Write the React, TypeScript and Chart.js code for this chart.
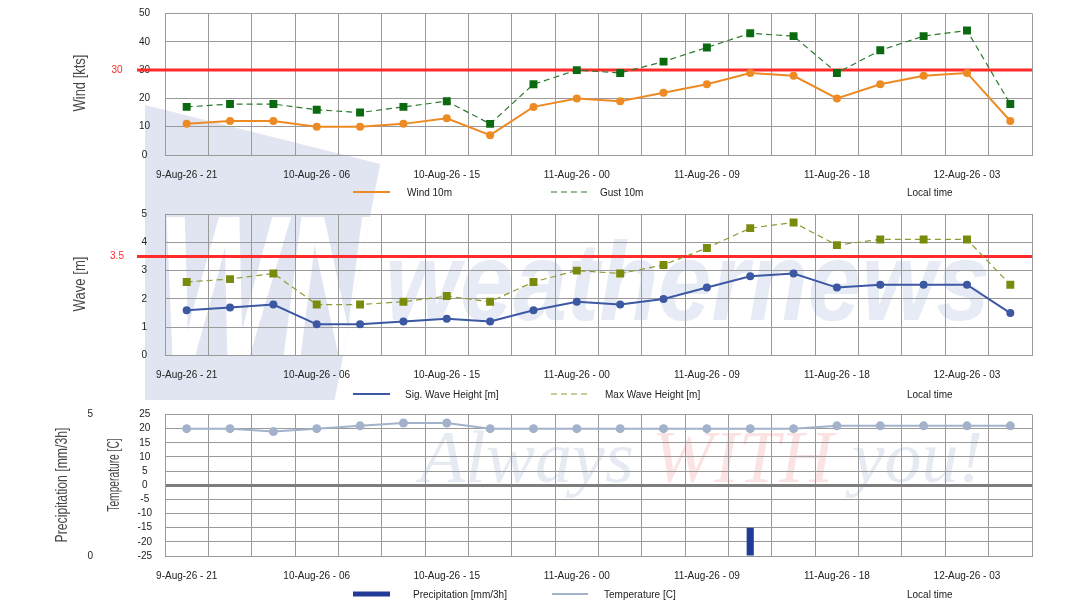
import React, { useEffect, useRef } from 'react';
import { Chart, registerables } from 'chart.js';

Chart.register(...registerables);

// ---------- data ----------
const categories = [
  '9-Aug-26 - 21', '10-Aug-26 - 00', '10-Aug-26 - 03', '10-Aug-26 - 06', '10-Aug-26 - 09',
  '10-Aug-26 - 12', '10-Aug-26 - 15', '10-Aug-26 - 18', '10-Aug-26 - 21', '11-Aug-26 - 00',
  '11-Aug-26 - 03', '11-Aug-26 - 06', '11-Aug-26 - 09', '11-Aug-26 - 12', '11-Aug-26 - 15',
  '11-Aug-26 - 18', '11-Aug-26 - 21', '12-Aug-26 - 00', '12-Aug-26 - 03', '12-Aug-26 - 06',
];
const wind10m = [11, 12, 12, 10, 10, 11, 13, 7, 17, 20, 19, 22, 25, 29, 28, 20, 25, 28, 29, 12];
const gust10m = [17, 18, 18, 16, 15, 17, 19, 11, 25, 30, 29, 33, 38, 43, 42, 29, 37, 42, 44, 18];
const sigWave = [1.6, 1.7, 1.8, 1.1, 1.1, 1.2, 1.3, 1.2, 1.6, 1.9, 1.8, 2.0, 2.4, 2.8, 2.9, 2.4, 2.5, 2.5, 2.5, 1.5];
const maxWave = [2.6, 2.7, 2.9, 1.8, 1.8, 1.9, 2.1, 1.9, 2.6, 3.0, 2.9, 3.2, 3.8, 4.5, 4.7, 3.9, 4.1, 4.1, 4.1, 2.5];
const temperature = [20, 20, 19, 20, 21, 22, 22, 20, 20, 20, 20, 20, 20, 20, 20, 21, 21, 21, 21, 21];
const precipitation = [0, 0, 0, 0, 0, 0, 0, 0, 0, 0, 0, 0, 0, 1.0, 0, 0, 0, 0, 0, 0];
const windLimit = 30;
const waveLimit = 3.5;
const windTicks = { min: 0, max: 50, step: 10 };
const waveTicks = { min: 0, max: 5, step: 1 };
const tempTicks = { min: -25, max: 25, step: 5 };
const precipTicks = { min: 0, max: 5, step: 5 };
const labelEvery = 3;

// ---------- styles ----------
const FONT = 'Liberation Sans, Arial, sans-serif';
const TXT = '#222222';
const GRID = '#9a9a9a';
const RED = '#ff2b2b';
const ORANGE = '#ee8a24';
const GREEN = '#0b6a10';
const GREEN_LINE = '#2c7a30';
const BLUE = '#3d58a3';
const OLIVE = '#7a8a0c';
const OLIVE_LINE = '#8f9a35';
const TEMP = '#a3b2cb';
const PRECIP = '#233a98';

Chart.defaults.font.family = FONT;
Chart.defaults.font.size = 10;
Chart.defaults.color = TXT;

const overlayPlugin = {
  id: 'overlay',
  beforeDatasetsDraw(chart: any, _args: any, opts: any) {
    if (opts.threshold == null) return;
    const ctx = chart.ctx;
    const y = chart.scales[opts.axis].getPixelForValue(opts.threshold);
    ctx.save();
    ctx.strokeStyle = RED;
    ctx.lineWidth = 3;
    ctx.beginPath();
    ctx.moveTo(137, y);
    ctx.lineTo(chart.chartArea.right, y);
    ctx.stroke();
    ctx.fillStyle = RED;
    ctx.font = `10px ${FONT}`;
    ctx.textAlign = 'center';
    ctx.textBaseline = 'middle';
    ctx.fillText(String(opts.threshold), 117, y);
    ctx.restore();
  },
  afterDraw(chart: any, _args: any, opts: any) {
    const ctx = chart.ctx;
    for (const t of opts.titles || []) {
      ctx.save();
      ctx.translate(t.x, t.y);
      ctx.rotate(-Math.PI / 2);
      ctx.scale(t.sx, 1);
      ctx.font = `${t.size}px ${FONT}`;
      ctx.fillStyle = '#474747';
      ctx.textAlign = 'center';
      ctx.textBaseline = 'middle';
      ctx.fillText(t.text, 0, 0);
      ctx.restore();
    }
    const ly = opts.legendY;
    for (const it of opts.legend || []) {
      ctx.save();
      ctx.strokeStyle = it.color;
      ctx.lineWidth = it.width;
      ctx.setLineDash(it.dash || []);
      ctx.beginPath();
      ctx.moveTo(it.x0, ly);
      ctx.lineTo(it.x1, ly);
      ctx.stroke();
      ctx.setLineDash([]);
      ctx.fillStyle = TXT;
      ctx.font = `10px ${FONT}`;
      ctx.textAlign = 'left';
      ctx.textBaseline = 'middle';
      ctx.fillText(it.text, it.tx, ly + 1);
      ctx.restore();
    }
    ctx.save();
    ctx.fillStyle = TXT;
    ctx.font = `10px ${FONT}`;
    ctx.textAlign = 'left';
    ctx.textBaseline = 'middle';
    ctx.fillText('Local time', 907, ly + 1);
    ctx.restore();
  },
};

const xScale = (height: number) => ({
  type: 'category',
  offset: true,
  grid: { offset: true, color: GRID, drawTicks: false, lineWidth: 1 },
  border: { color: GRID },
  ticks: {
    autoSkip: false,
    maxRotation: 0,
    minRotation: 0,
    padding: 14,
    color: TXT,
    font: { size: 10 },
    callback: (_v: any, i: number) => (i % labelEvery === 0 ? categories[i] : ''),
  },
  afterFit: (s: any) => {
    s.height = height;
    s.paddingLeft = 0;
    s.paddingRight = 0;
  },
});

const zeroPad = (s: any, width: number) => {
  s.width = width;
  s.paddingTop = 0;
  s.paddingBottom = 0;
};

const yScale = (t: { min: number; max: number; step: number }, padding: number, width: number, extra: any = {}) => ({
  min: t.min,
  max: t.max,
  ticks: { stepSize: t.step, autoSkip: false, padding, crossAlign: 'center', color: TXT, font: { size: 10 } },
  grid: { color: GRID, drawTicks: false },
  border: { color: GRID },
  afterFit: (s: any) => zeroPad(s, width),
  ...extra,
});

function windConfig(): any {
  return {
    type: 'line',
    data: {
      labels: categories,
      datasets: [
        {
          label: 'Wind 10m', data: wind10m, borderColor: ORANGE, backgroundColor: ORANGE,
          borderWidth: 2, pointRadius: 4, pointBorderWidth: 0, pointStyle: 'circle', order: 2,
        },
        {
          label: 'Gust 10m', data: gust10m, borderColor: GREEN_LINE, backgroundColor: GREEN,
          pointBorderColor: GREEN, borderWidth: 1.2, borderDash: [6, 4], pointRadius: 5.6,
          pointBorderWidth: 0, pointStyle: 'rect', order: 1,
        },
      ],
    },
    options: {
      responsive: false,
      animation: false,
      layout: { padding: { top: 13.5, right: 52, left: 0, bottom: 0 } },
      scales: { x: xScale(45), y: yScale(windTicks, 15, 165) },
      plugins: {
        legend: { display: false },
        tooltip: { enabled: false },
        overlay: {
          threshold: windLimit, axis: 'y', legendY: 192,
          titles: [{ text: 'Wind [kts]', x: 81, y: 83, sx: 0.81, size: 16 }],
          legend: [
            { text: 'Wind 10m', color: ORANGE, width: 2, x0: 353, x1: 390, tx: 407 },
            { text: 'Gust 10m', color: GREEN_LINE, width: 1.2, dash: [6, 4], x0: 551, x1: 589, tx: 600 },
          ],
        },
      },
    },
    plugins: [overlayPlugin],
  };
}

function waveConfig(): any {
  return {
    type: 'line',
    data: {
      labels: categories,
      datasets: [
        {
          label: 'Sig. Wave Height [m]', data: sigWave, borderColor: BLUE, backgroundColor: BLUE,
          borderWidth: 2, pointRadius: 4, pointBorderWidth: 0, pointStyle: 'circle', order: 2,
        },
        {
          label: 'Max Wave Height [m]', data: maxWave, borderColor: OLIVE_LINE, backgroundColor: OLIVE,
          pointBorderColor: OLIVE, borderWidth: 1.2, borderDash: [6, 4], pointRadius: 5.6,
          pointBorderWidth: 0, pointStyle: 'rect', order: 1,
        },
      ],
    },
    options: {
      responsive: false,
      animation: false,
      layout: { padding: { top: 14, right: 52, left: 0, bottom: 0 } },
      scales: { x: xScale(44.5), y: yScale(waveTicks, 18, 165) },
      plugins: {
        legend: { display: false },
        tooltip: { enabled: false },
        overlay: {
          threshold: waveLimit, axis: 'y', legendY: 194,
          titles: [{ text: 'Wave [m]', x: 81, y: 84, sx: 0.82, size: 16 }],
          legend: [
            { text: 'Sig. Wave Height [m]', color: BLUE, width: 2, x0: 353, x1: 390, tx: 405 },
            { text: 'Max Wave Height [m]', color: OLIVE_LINE, width: 1.2, dash: [6, 4], x0: 551, x1: 589, tx: 605 },
          ],
        },
      },
    },
    plugins: [overlayPlugin],
  };
}

function weatherConfig(): any {
  return {
    type: 'bar',
    data: {
      labels: categories,
      datasets: [
        {
          type: 'line', label: 'Temperature [C]', data: temperature, yAxisID: 'yT',
          borderColor: TEMP, backgroundColor: TEMP, borderWidth: 2, pointRadius: 4.5,
          pointBorderWidth: 0, order: 1,
        },
        {
          type: 'bar', label: 'Precipitation [mm/3h]', data: precipitation, yAxisID: 'yP',
          backgroundColor: PRECIP, categoryPercentage: 1, barPercentage: 0.165, order: 2,
        },
      ],
    },
    options: {
      responsive: false,
      animation: false,
      layout: { padding: { top: 14.5, right: 52, left: 0, bottom: 0 } },
      scales: {
        x: xScale(53),
        yT: yScale(tempTicks, 13, 65, {
          position: 'left',
          weight: 0,
          grid: {
            drawTicks: false,
            color: (c: any) => (c.tick && c.tick.value === 0 ? '#7d7d7d' : GRID),
            lineWidth: (c: any) => (c.tick && c.tick.value === 0 ? 3 : 1),
          },
        }),
        yP: {
          position: 'left',
          weight: 10,
          min: precipTicks.min,
          max: precipTicks.max,
          ticks: { stepSize: precipTicks.step, autoSkip: false, padding: 7, crossAlign: 'center', color: TXT, font: { size: 10 } },
          grid: { drawOnChartArea: false, drawTicks: false },
          border: { display: false },
          afterFit: (s: any) => zeroPad(s, 100),
        },
      },
      plugins: {
        legend: { display: false },
        tooltip: { enabled: false },
        overlay: {
          legendY: 194,
          titles: [
            { text: 'Precipitation [mm/3h]', x: 62, y: 85, sx: 0.72, size: 17 },
            { text: 'Temperature [C]', x: 115, y: 75, sx: 0.64, size: 16 },
          ],
          legend: [
            { text: 'Precipitation [mm/3h]', color: PRECIP, width: 5, x0: 353, x1: 390, tx: 413 },
            { text: 'Temperature [C]', color: TEMP, width: 2, x0: 552, x1: 588, tx: 604 },
          ],
        },
      },
    },
    plugins: [overlayPlugin],
  };
}

function Watermark() {
  return (
    <>
      <div
        style={{
          position: 'absolute', left: 145, top: 105, width: 240, height: 295,
          background: '#e0e5f1',
          clipPath: 'polygon(0 0, 98% 20%, 79% 100%, 0 100%)',
          overflow: 'hidden',
        }}
      >
        <span
          style={{
            position: 'absolute', left: 12, top: 81, fontFamily: FONT, fontWeight: 'bold',
            fontStyle: 'italic', fontSize: 200, lineHeight: 1, color: '#ffffff',
            transform: 'scaleX(0.66)', transformOrigin: 'left top', whiteSpace: 'nowrap',
          }}
        >
          WN
        </span>
      </div>
      <span
        style={{
          position: 'absolute', left: 385, top: 226, fontFamily: FONT, fontWeight: 'bold',
          fontStyle: 'italic', fontSize: 112, lineHeight: 1, color: '#e7ebf5',
          transform: 'scaleX(0.86)', transformOrigin: 'left top', whiteSpace: 'nowrap',
        }}
      >
        weathernews
      </span>
      <span
        style={{
          position: 'absolute', left: 420, top: 420, fontFamily: 'Liberation Serif, serif',
          fontStyle: 'italic', fontSize: 74, lineHeight: 1, whiteSpace: 'nowrap', color: '#e6eaf3',
        }}
      >
        Always <span style={{ color: '#fce3e3' }}>WITH</span> you!
      </span>
    </>
  );
}

export default function App() {
  const r1 = useRef<HTMLCanvasElement>(null);
  const r2 = useRef<HTMLCanvasElement>(null);
  const r3 = useRef<HTMLCanvasElement>(null);

  useEffect(() => {
    const c1 = new Chart(r1.current as HTMLCanvasElement, windConfig());
    const c2 = new Chart(r2.current as HTMLCanvasElement, waveConfig());
    const c3 = new Chart(r3.current as HTMLCanvasElement, weatherConfig());
    return () => { c1.destroy(); c2.destroy(); c3.destroy(); };
  }, []);

  const cv = (top: number, h: number): React.CSSProperties => ({
    position: 'absolute', left: 0, top, width: 1084, height: h, display: 'block',
  });

  return (
    <div
      style={{
        position: 'absolute', left: 0, top: 0, width: 1084, height: 609,
        background: '#ffffff', overflow: 'hidden',
      }}
    >
      <Watermark />
      <canvas ref={r1} width={1084} height={200} style={cv(0, 200)} />
      <canvas ref={r2} width={1084} height={200} style={cv(200, 200)} />
      <canvas ref={r3} width={1084} height={209} style={cv(400, 209)} />
    </div>
  );
}
